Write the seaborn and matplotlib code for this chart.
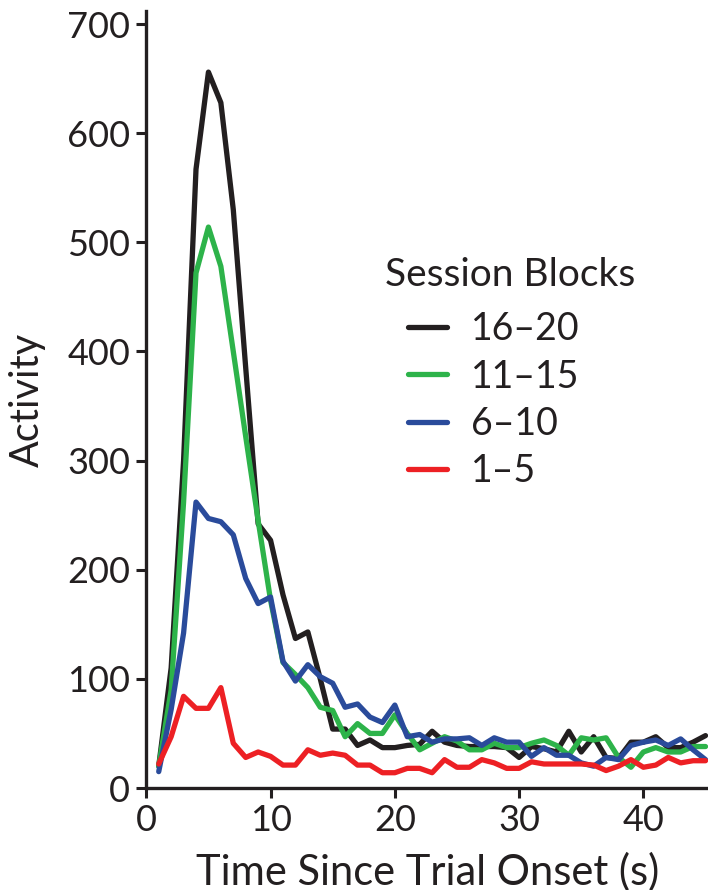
import numpy as np
import pandas as pd
import matplotlib
matplotlib.use("Agg")
import matplotlib.pyplot as plt
import seaborn as sns

time_s = list(range(1, 46))

blocks_16_20 = [20, 110, 300, 567, 656, 628, 530, 385, 242, 227, 177, 137, 143, 100, 54,
                54, 39, 44, 37, 37, 39, 40, 52, 42, 39, 38, 38, 38, 37, 28,
                38, 36, 33, 52, 33, 47, 28, 27, 42, 42, 47, 37, 37, 42, 48]
blocks_11_15 = [20, 90, 262, 472, 514, 478, 400, 322, 245, 172, 115, 104, 92, 74, 71,
                47, 59, 50, 50, 67, 50, 35, 41, 47, 43, 35, 35, 41, 37, 37,
                41, 44, 39, 30, 46, 44, 46, 28, 19, 33, 37, 33, 33, 38, 38]
blocks_6_10 = [15, 72, 142, 262, 247, 244, 232, 192, 169, 175, 116, 98, 113, 102, 96,
               74, 77, 65, 60, 76, 47, 49, 42, 45, 45, 46, 39, 46, 42, 42,
               29, 37, 30, 30, 23, 20, 28, 26, 39, 42, 44, 39, 45, 35, 26]
blocks_1_5 = [22, 47, 84, 73, 73, 92, 41, 28, 33, 29, 21, 21, 35, 30, 32,
              30, 21, 21, 14, 14, 18, 18, 14, 26, 19, 19, 26, 23, 18, 18,
              24, 22, 22, 22, 22, 21, 16, 20, 26, 19, 21, 28, 23, 25, 25]

block_labels = ["16\u201320", "11\u201315", "6\u201310", "1\u20135"]
block_colors = ["#231f20", "#2db34a", "#2a4b9b", "#ed2024"]
x_ticks = [0, 10, 20, 30, 40]
y_ticks = [0, 100, 200, 300, 400, 500, 600, 700]

series = [blocks_16_20, blocks_11_15, blocks_6_10, blocks_1_5]
frames = []
for lab, vals in zip(block_labels, series):
    frames.append(pd.DataFrame({"time": time_s, "activity": vals, "block": lab}))
df = pd.concat(frames, ignore_index=True)

sns.set_style("ticks")
plt.rcParams["font.family"] = ["Lato", "DejaVu Sans"]

fig = plt.figure(figsize=(7.08, 8.9), dpi=100)
ax = fig.add_axes([146.3 / 708, 1 - 788 / 890, 1 - 146.3 / 708, (788 - 11) / 890])

sns.lineplot(data=df, x="time", y="activity", hue="block", hue_order=block_labels,
             palette=dict(zip(block_labels, block_colors)), linewidth=3.8, ax=ax,
             legend=True)

ax.set_xlim(0, 45.2)
ax.set_ylim(0, 712)
ax.set_xticks(x_ticks)
ax.set_yticks(y_ticks)
ax.tick_params(axis="both", which="major", direction="out", length=7.5, width=2.2,
               labelsize=26, pad=4, color="#231f20", labelcolor="#231f20")
for side in ["left", "bottom"]:
    ax.spines[side].set_linewidth(2.4)
    ax.spines[side].set_color("#231f20")
sns.despine(ax=ax)

ax.set_xlabel("Time Since Trial Onset (s)", fontsize=30, color="#231f20", labelpad=11)
ax.set_ylabel("Activity", fontsize=28.5, color="#231f20", labelpad=15)

handles, labels = ax.get_legend_handles_labels()
leg = ax.legend(handles, labels, loc="upper left", bbox_to_anchor=(0.439, 0.633),
                frameon=False, fontsize=27, handlelength=1.04, handletextpad=0.64,
                labelspacing=0.305, borderaxespad=0)
for t in leg.get_texts():
    t.set_color("#231f20")
for h in leg.get_lines():
    h.set_linewidth(3.8)
ax.text(385, 890 - 275, "Session Blocks", transform=None, fontsize=28,
        color="#231f20", va="center", ha="left")

fig.savefig("out.png", dpi=100)
